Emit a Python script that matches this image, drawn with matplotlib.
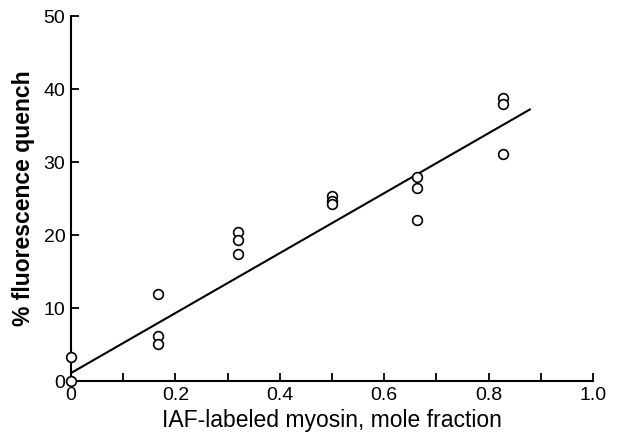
import matplotlib
matplotlib.use("Agg")
from matplotlib import pyplot as plt
import numpy as np

plt.rcParams['font.family'] = ['Liberation Sans', 'DejaVu Sans']

# measured points (mole fraction, % quench)
mole_frac = [0, 0,
             0.167, 0.167, 0.167,
             0.32, 0.32, 0.32,
             0.5, 0.5, 0.5,
             0.662, 0.662, 0.662,
             0.827, 0.827, 0.827]
quench = [3.3, 0.0,
          11.9, 6.2, 5.1,
          20.4, 19.3, 17.4,
          25.3, 24.6, 24.2,
          27.9, 26.5, 22.1,
          38.8, 37.9, 31.1]

# fitted line end points
fit_x = [0, 0.879]
fit_y = [1.1, 37.2]

xticks = [0, 0.2, 0.4, 0.6, 0.8, 1.0]
xtick_labels = ["0", "0.2", "0.4", "0.6", "0.8", "1.0"]
yticks = [0, 10, 20, 30, 40, 50]

fig = plt.figure(figsize=(6.19, 4.34), dpi=100)
ax = fig.add_axes([0.1147, 0.122, 0.8433, 0.841])

ax.plot(fit_x, fit_y, color="black", lw=1.5, zorder=2)
ax.plot(mole_frac, quench, linestyle="none", marker="o", ms=7,
        mfc="white", mec="black", mew=1.2, zorder=3, clip_on=False)

ax.set_xlim(0, 1.0)
ax.set_ylim(0, 50)
ax.spines["top"].set_visible(False)
ax.spines["right"].set_visible(False)
for s in ["left", "bottom"]:
    ax.spines[s].set_linewidth(1.5)

ax.set_xticks(xticks)
ax.set_xticklabels(xtick_labels)
ax.set_xticks(np.arange(0.1, 1.0, 0.2), minor=True)
ax.set_yticks(yticks)
ax.tick_params(axis="both", which="both", direction="in", length=6,
               width=1.3, labelsize=14)
ax.tick_params(axis="x", pad=4)
ax.tick_params(axis="y", pad=4)

ax.set_xlabel("IAF-labeled myosin, mole fraction", fontsize=16.5, labelpad=4)
ax.set_ylabel("% fluorescence quench", fontsize=16.5, fontweight="bold", labelpad=6)

fig.savefig("out.png", dpi=100)
